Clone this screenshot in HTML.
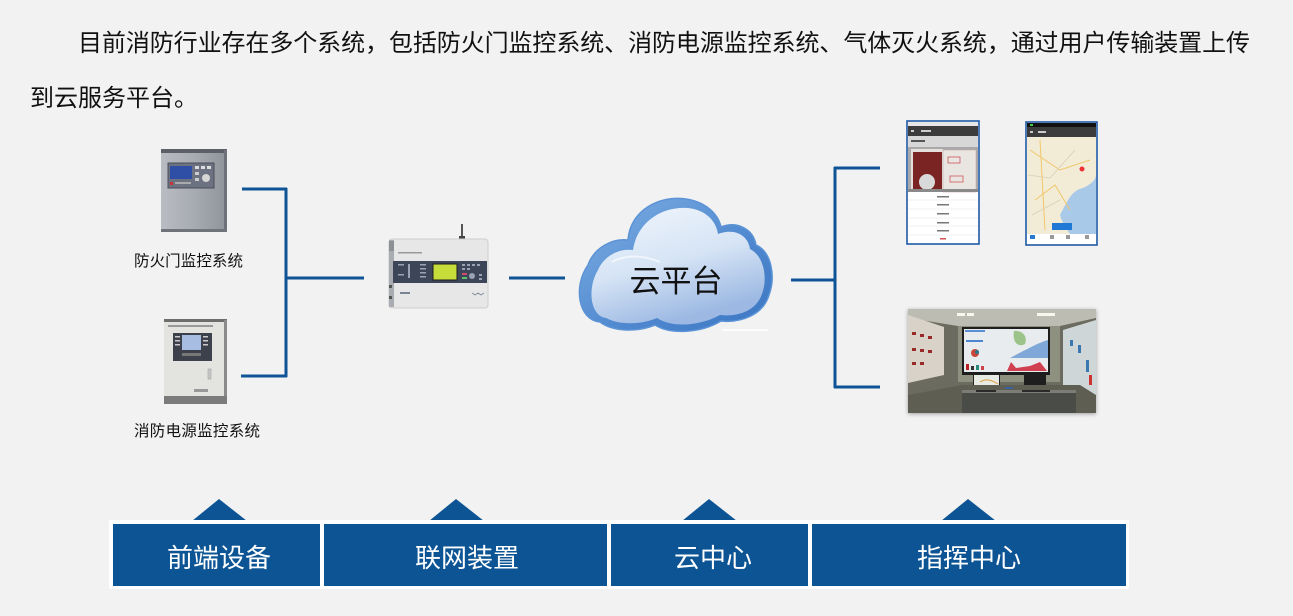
<!DOCTYPE html>
<html>
<head>
<meta charset="utf-8">
<style>
  html,body{margin:0;padding:0;background:#f2f2f2;}
  body{width:1293px;height:616px;overflow:hidden;}
  svg{display:block;}
  text{font-family:"Liberation Sans","Noto Sans CJK SC","WenQuanYi Zen Hei",sans-serif;}
</style>
</head>
<body>
<svg width="1293" height="616" viewBox="0 0 1293 616" xmlns="http://www.w3.org/2000/svg">
  <defs>
    <linearGradient id="metal" x1="0" y1="0" x2="1" y2="0">
      <stop offset="0" stop-color="#b9bcc2"/>
      <stop offset="0.5" stop-color="#a7abb2"/>
      <stop offset="1" stop-color="#8f939a"/>
    </linearGradient>
    <linearGradient id="cloudBack" x1="0" y1="0" x2="1" y2="1">
      <stop offset="0" stop-color="#7fb0e4"/>
      <stop offset="0.6" stop-color="#4f88cf"/>
      <stop offset="1" stop-color="#3b76c2"/>
    </linearGradient>
    <linearGradient id="cloudFront" x1="0" y1="0" x2="0.4" y2="1">
      <stop offset="0" stop-color="#f1f6fc"/>
      <stop offset="0.55" stop-color="#d6e4f5"/>
      <stop offset="1" stop-color="#9db9e3"/>
    </linearGradient>
    <filter id="shadow" x="-10%" y="-10%" width="120%" height="130%">
      <feDropShadow dx="0" dy="1" stdDeviation="2" flood-color="#000" flood-opacity="0.35"/>
    </filter>
    <clipPath id="roomClip"><rect x="908" y="309" width="188" height="104"/></clipPath>
    <clipPath id="mapClip"><rect x="1027" y="137" width="69" height="97"/></clipPath>
  </defs>

  <!-- Header paragraph -->
  <text x="78" y="51" font-size="24" fill="#111" textLength="1172" lengthAdjust="spacing">目前消防行业存在多个系统，包括防火门监控系统、消防电源监控系统、气体灭火系统，通过用户传输装置上传</text>
  <text x="30" y="106" font-size="24" fill="#111">到云服务平台。</text>

  <!-- ===== Panel 1: fire door monitor ===== -->
  <rect x="161" y="150" width="66" height="82" fill="url(#metal)"/>
  <rect x="161" y="149" width="66" height="4" fill="#5c5f65"/>
  <rect x="224" y="150" width="3" height="82" fill="#6e7177"/>
  <rect x="161" y="229" width="66" height="3" fill="#707379"/>
  <rect x="168" y="163" width="46" height="25" fill="#6d7282" stroke="#4a4e58" stroke-width="1"/>
  <rect x="170" y="166" width="22" height="13" fill="#2f4fa6"/>
  <rect x="195" y="166" width="4" height="3" fill="#ddd"/>
  <rect x="201" y="166" width="4" height="3" fill="#ddd"/>
  <rect x="207" y="166" width="4" height="3" fill="#ddd"/>
  <rect x="195" y="172" width="4" height="3" fill="#ccc"/>
  <rect x="195" y="178" width="4" height="3" fill="#ccc"/>
  <circle cx="206" cy="178" r="4" fill="#d6d6d6"/>
  <rect x="170" y="182" width="3" height="3" fill="#c33"/>
  <rect x="175" y="182" width="16" height="2" fill="#aaa"/>
  <text x="134" y="266" font-size="15.5" fill="#111" textLength="109" lengthAdjust="spacing">防火门监控系统</text>

  <!-- ===== Panel 2: fire power monitor ===== -->
  <rect x="164" y="320" width="63" height="84" fill="#e3e3df"/>
  <rect x="164" y="319" width="63" height="3" fill="#6d6d6d"/>
  <rect x="224" y="320" width="3" height="84" fill="#8a8a8a"/>
  <rect x="164" y="396" width="63" height="8" fill="#7b7b7b"/>
  <rect x="168" y="325" width="45" height="2" fill="#9a9a9a"/>
  <rect x="173" y="333" width="39" height="28" fill="#3c414c"/>
  <rect x="182" y="335" width="19" height="15" fill="#a8bde2"/>
  <rect x="175" y="336" width="5" height="1.5" fill="#ccc"/>
  <rect x="175" y="340" width="5" height="1.5" fill="#ccc"/>
  <rect x="175" y="344" width="5" height="1.5" fill="#ccc"/>
  <rect x="203" y="336" width="5" height="1.5" fill="#ccc"/>
  <rect x="203" y="340" width="5" height="1.5" fill="#ccc"/>
  <rect x="203" y="344" width="5" height="1.5" fill="#ccc"/>
  <rect x="182" y="353" width="19" height="3" fill="#777"/>
  <rect x="208" y="369" width="3" height="10" fill="#c8c8c8" stroke="#999" stroke-width="0.5"/>
  <rect x="194" y="389" width="14" height="3" fill="#999"/>
  <text x="134" y="436" font-size="15.5" fill="#111" textLength="126" lengthAdjust="spacing">消防电源监控系统</text>

  <!-- ===== Left connectors ===== -->
  <g stroke="#0e5496" stroke-width="3" fill="none">
    <line x1="242" y1="189" x2="287" y2="189"/>
    <line x1="286" y1="188" x2="286" y2="377"/>
    <line x1="241" y1="376" x2="287" y2="376"/>
    <line x1="286" y1="278" x2="364" y2="278"/>
    <line x1="509" y1="278" x2="565" y2="278"/>
  </g>

  <!-- ===== Gateway device ===== -->
  <rect x="461" y="224" width="2" height="14" fill="#555"/>
  <rect x="459" y="236" width="6" height="3" fill="#444"/>
  <rect x="389" y="239" width="99" height="69" rx="3" fill="#e7e7e7" stroke="#cfcfcf" stroke-width="1"/>
  <rect x="389" y="240" width="5" height="67" fill="#a9acb0"/>
  <rect x="389" y="241" width="5" height="10" fill="#8d9094"/>
  <rect x="398" y="252" width="24" height="1.5" fill="#999"/>
  <rect x="393" y="261" width="94" height="22" fill="#3d4659"/>
  <rect x="433" y="264" width="24" height="16" fill="#c5dc3b" stroke="#1e1e1e" stroke-width="1"/>
  <g fill="#9aa2b4">
    <rect x="398" y="264" width="6" height="1.5"/><rect x="408" y="264" width="2" height="14"/>
    <rect x="420" y="264" width="6" height="1.5"/><rect x="420" y="268" width="6" height="1.5"/>
    <rect x="420" y="272" width="6" height="1.5"/><rect x="420" y="276" width="6" height="1.5"/>
    <rect x="398" y="274" width="6" height="1.5"/>
    <rect x="462" y="264" width="3" height="2"/><rect x="467" y="264" width="3" height="2"/><rect x="472" y="264" width="3" height="2"/>
    <rect x="477" y="264" width="3" height="2"/><rect x="462" y="268" width="3" height="2"/><rect x="467" y="268" width="3" height="2"/>
    <circle cx="472" cy="276" r="3"/><rect x="479" y="274" width="3" height="2"/><rect x="479" y="278" width="3" height="2"/>
  </g>
  <rect x="462" y="273" width="5" height="2" fill="#d14a6c"/>
  <rect x="462" y="277" width="5" height="2" fill="#5fc26b"/>
  <rect x="400" y="292" width="10" height="2" fill="#7a8594"/>
  <path d="M472 293 l3 2 l3 -2 l3 2 l3 -2" stroke="#7a8594" stroke-width="0.8" fill="none"/>
  <rect x="389" y="285" width="3" height="3" fill="#555"/>
  <rect x="389" y="296" width="3" height="3" fill="#555"/>

  <!-- ===== Cloud ===== -->
  <path d="M600 322 C578 320 573 286 588 265 C594 248 612 238 628 240 C630 210 660 195 686 199 C706 202 718 214 721 227 C736 221 753 228 756 245 C771 251 776 276 769 295 C763 315 741 323 721 321 C701 333 671 335 655 325 C635 333 612 331 600 322 Z" fill="url(#cloudBack)" stroke="#5b93d6" stroke-width="1.5"/>
  <path d="M606 318 C590 316 587 288 598 270 C604 256 619 248 633 250 C637 222 662 206 688 208 C706 210 716 221 718 234 C733 228 748 234 750 249 C764 256 768 278 762 294 C756 311 738 317 720 315 C700 326 672 328 657 318 C638 326 617 324 606 318 Z" fill="url(#cloudFront)"/>
  <path d="M612 262 C630 252 650 258 660 262" stroke="#ffffff" stroke-width="2" fill="none" opacity="0.6"/>
  <line x1="722" y1="330" x2="768" y2="330" stroke="#ffffff" stroke-width="1.5"/>
  <text x="676" y="292" font-size="31" fill="#111" text-anchor="middle">云平台</text>

  <!-- ===== Right connectors ===== -->
  <g stroke="#0e5496" stroke-width="3" fill="none">
    <line x1="791" y1="280" x2="836" y2="280"/>
    <line x1="835" y1="167" x2="835" y2="388"/>
    <line x1="834" y1="168" x2="880" y2="168"/>
    <line x1="834" y1="387" x2="880" y2="387"/>
  </g>

  <!-- ===== Phone 1 ===== -->
  <rect x="907" y="121" width="72" height="123" fill="#ffffff"/>
  <rect x="908" y="122" width="70" height="4" fill="#e6e6e6"/>
  <rect x="908" y="126" width="70" height="10" fill="#3c3c3c"/>
  <rect x="911" y="130" width="3" height="2" fill="#ccc"/>
  <rect x="921" y="130" width="10" height="2" fill="#ccc"/>
  <rect x="908" y="136" width="70" height="56" fill="#a9a9a9"/>
  <rect x="908" y="136" width="70" height="11" fill="#d7d7d7"/>
  <rect x="911" y="140" width="14" height="2" fill="#555"/>
  <rect x="911" y="149" width="32" height="43" fill="#e5e0dc"/>
  <rect x="913" y="152" width="29" height="40" fill="#7a2424"/>
  <circle cx="927" cy="182" r="8" fill="#d9d9d9"/>
  <rect x="943" y="150" width="33" height="42" fill="#e9e6e2" stroke="#c9a9a9" stroke-width="0.6"/>
  <rect x="948" y="157" width="12" height="6" fill="none" stroke="#c55" stroke-width="0.8"/>
  <rect x="950" y="176" width="13" height="6" fill="none" stroke="#c55" stroke-width="0.8"/>
  <rect x="908" y="189" width="70" height="3" fill="#8a8a8a"/>
  <g fill="#777">
    <rect x="937" y="196" width="12" height="1.5"/>
    <rect x="937" y="204" width="12" height="1.5"/>
    <rect x="937" y="213" width="12" height="1.5"/>
    <rect x="937" y="222" width="12" height="1.5"/>
    <rect x="937" y="230" width="12" height="1.5"/>
  </g>
  <g stroke="#eeeeee" stroke-width="0.8">
    <line x1="908" y1="200" x2="978" y2="200"/>
    <line x1="908" y1="209" x2="978" y2="209"/>
    <line x1="908" y1="218" x2="978" y2="218"/>
    <line x1="908" y1="226" x2="978" y2="226"/>
    <line x1="908" y1="235" x2="978" y2="235"/>
  </g>
  <rect x="940" y="238" width="6" height="1.5" fill="#d05050"/>
  <rect x="907" y="121" width="72" height="123" fill="none" stroke="#1d5aa6" stroke-width="1.6"/>

  <!-- ===== Phone 2 ===== -->
  <rect x="1026" y="122" width="71" height="123" fill="#ffffff"/>
  <rect x="1027" y="123" width="69" height="4" fill="#111"/>
  <rect x="1030" y="124" width="3" height="2" fill="#4c4"/>
  <rect x="1027" y="127" width="69" height="10" fill="#3c3c3c"/>
  <rect x="1030" y="131" width="3" height="2" fill="#ccc"/>
  <rect x="1038" y="131" width="8" height="2" fill="#ccc"/>
  <g clip-path="url(#mapClip)">
    <rect x="1027" y="137" width="69" height="97" fill="#f2ecd6"/>
    <path d="M1060 215 C1068 200 1072 190 1083 188 C1090 185 1096 180 1096 175 L1096 234 L1070 234 C1066 228 1062 222 1060 215 Z" fill="#a9c9e8"/>
    <path d="M1030 150 L1060 170 L1090 160 M1035 200 L1055 185 L1070 210 M1040 140 L1045 230" stroke="#f1c76a" stroke-width="1" fill="none"/>
    <path d="M1028 175 L1050 178 L1075 150 M1032 215 L1060 200" stroke="#d9cfb0" stroke-width="0.8" fill="none"/>
    <circle cx="1082" cy="169" r="2.5" fill="#e33"/>
    <rect x="1052" y="223" width="20" height="7" fill="#1f78d4"/>
  </g>
  <rect x="1027" y="234" width="69" height="10" fill="#ffffff"/>
  <rect x="1030" y="235" width="5" height="4" fill="#2a7ad0"/>
  <rect x="1050" y="235" width="4" height="4" fill="#999"/>
  <rect x="1066" y="235" width="4" height="4" fill="#999"/>
  <rect x="1085" y="235" width="4" height="4" fill="#999"/>
  <rect x="1026" y="122" width="71" height="123" fill="none" stroke="#1d5aa6" stroke-width="1.6"/>

  <!-- ===== Control room photo ===== -->
  <rect x="908" y="309" width="188" height="104" fill="#5b5d52" filter="url(#shadow)"/>
  <g clip-path="url(#roomClip)">
    <rect x="908" y="309" width="188" height="104" fill="#6b6c5f"/>
    <path d="M908 309 H1096 V318 L1060 326 H958 L908 318 Z" fill="#bdbcb2"/>
    <rect x="958" y="326" width="102" height="56" fill="#8e9080"/>
    <rect x="957" y="313" width="8" height="3" fill="#f7f7ee"/>
    <rect x="967" y="313" width="7" height="3" fill="#f7f7ee"/>
    <rect x="1037" y="313" width="18" height="3" fill="#f7f7ee"/>
    <path d="M908 315 L944 327 L944 375 L908 383 Z" fill="#d8d2c8"/>
    <g fill="#9a2a2a">
      <rect x="912" y="332" width="4" height="3"/><rect x="920" y="334" width="4" height="3"/><rect x="928" y="336" width="4" height="3"/>
      <rect x="912" y="348" width="4" height="3"/><rect x="920" y="349" width="4" height="3"/><rect x="928" y="350" width="4" height="3"/>
      <rect x="912" y="362" width="4" height="3"/><rect x="920" y="362" width="4" height="3"/>
    </g>
    <path d="M1063 330 L1096 320 L1096 400 L1063 390 Z" fill="#cfd6d8"/>
    <g fill="#3c78b0">
      <rect x="1070" y="340" width="3" height="6"/><rect x="1078" y="345" width="3" height="8"/><rect x="1086" y="360" width="3" height="12"/>
    </g>
    <rect x="1089" y="375" width="3" height="10" fill="#c33"/>
    <rect x="962" y="327" width="88" height="48" fill="#1d1d1d"/>
    <rect x="964" y="329" width="84" height="43" fill="#e9ecef"/>
    <rect x="965" y="330" width="20" height="2" fill="#5a8fd6"/>
    <path d="M1014 331 C1022 330 1028 336 1025 344 C1018 348 1012 342 1014 331 Z" fill="#9cc48a"/>
    <path d="M1010 358 C1025 350 1040 342 1048 340 L1048 358 Z" fill="#7fa7d8"/>
    <circle cx="975" cy="353" r="4" fill="#c8473c"/>
    <circle cx="977" cy="352" r="2" fill="#2a7a8a"/>
    <rect x="966" y="364" width="3" height="6" fill="#b22"/>
    <rect x="971" y="366" width="3" height="4" fill="#333"/>
    <rect x="976" y="365" width="3" height="5" fill="#2a8a7a"/>
    <rect x="981" y="366" width="3" height="4" fill="#c44"/>
    <path d="M1007 371 L1011 362 L1016 368 L1030 366 L1040 362 L1047 371 Z" fill="#d04050"/>
    <rect x="966" y="340" width="17" height="2" fill="#4d86d0"/>
    <rect x="973" y="374" width="27" height="16" fill="#222"/>
    <rect x="974" y="375" width="25" height="13" fill="#e8ebe4"/>
    <path d="M980 382 C986 378 992 380 998 384" stroke="#e0a040" stroke-width="1" fill="none"/>
    <rect x="1024" y="374" width="22" height="16" fill="#1e1e1e"/>
    <path d="M908 395 L962 385 L1080 385 L1096 395 L1096 413 L908 413 Z" fill="#5f5e52"/>
    <rect x="962" y="390" width="114" height="23" fill="#4a4c48"/>
    <rect x="962" y="390" width="114" height="3" fill="#7b7d76"/>
    <rect x="976" y="390" width="20" height="2" fill="#2a2a2a"/>
    <rect x="1022" y="390" width="28" height="2" fill="#2a2a2a"/>
    <rect x="1005" y="387" width="8" height="2" fill="#3a5fa0"/>
  </g>

  <!-- ===== Bottom stage bar ===== -->
  <g fill="#0d5494">
    <polygon points="192,521 219,499 247,521"/>
    <polygon points="429,521 456,499 484,521"/>
    <polygon points="682,521 709,499 737,521"/>
    <polygon points="941,521 968,499 996,521"/>
  </g>
  <rect x="109" y="520" width="1020" height="69" rx="2" fill="#ffffff"/>
  <g fill="#0d5494">
    <rect x="113" y="524" width="207" height="62"/>
    <rect x="324" y="524" width="283" height="62"/>
    <rect x="611" y="524" width="197" height="62"/>
    <rect x="812" y="524" width="314" height="62"/>
  </g>
  <g font-size="26" fill="#ffffff" text-anchor="middle">
    <text x="219" y="567">前端设备</text>
    <text x="467" y="567">联网装置</text>
    <text x="713" y="567">云中心</text>
    <text x="969" y="567">指挥中心</text>
  </g>
</svg>
</body>
</html>
